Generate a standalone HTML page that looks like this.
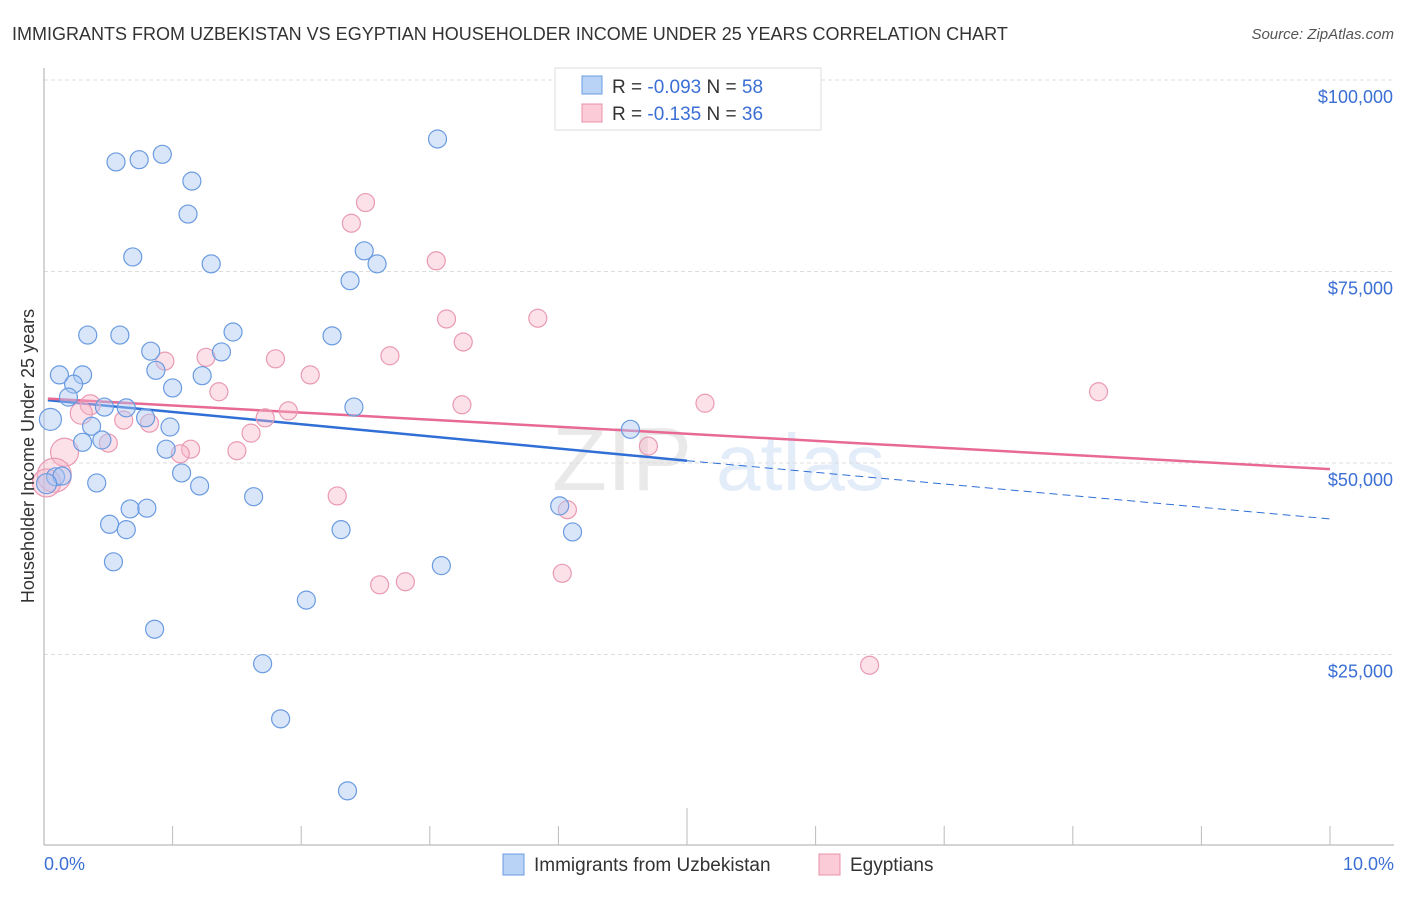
<!DOCTYPE html>
<html><head><meta charset="utf-8"><style>
body{margin:0;background:#fff;font-family:"Liberation Sans",sans-serif}
svg text{font-family:"Liberation Sans",sans-serif}
</style></head><body>
<svg width="1406" height="892" xmlns="http://www.w3.org/2000/svg">
<text x="12" y="40" font-size="18" fill="#333">IMMIGRANTS FROM UZBEKISTAN VS EGYPTIAN HOUSEHOLDER INCOME UNDER 25 YEARS CORRELATION CHART</text>
<text x="1394" y="39" font-size="15" fill="#555" text-anchor="end" font-style="italic">Source: ZipAtlas.com</text>
<g opacity="0.18">
<text x="552" y="490" font-size="90" fill="#888" font-family="Liberation Serif">ZIP</text>
<text x="716" y="490" font-size="80" fill="#6a9be0">atlas</text></g>
<g id="grid"></g><g id="axes"></g><g id="trends"></g><g id="pts"></g>
<text transform="translate(34,456) rotate(-90)" text-anchor="middle" font-size="18" fill="#333">Householder Income Under 25 years</text>
<text x="44" y="870" font-size="18" fill="#3b6fd4">0.0%</text>
<text x="1394" y="870" font-size="18" fill="#3b6fd4" text-anchor="end">10.0%</text>
<g>
<rect x="555" y="68" width="266" height="62" fill="#fff" stroke="#ddd"/>
<rect x="582" y="76" width="20" height="18" fill="#b8d3f5" stroke="#6a9be0"/>
<rect x="582" y="104" width="20" height="18" fill="#fbcbd8" stroke="#e890aa"/>
<text x="612" y="93" font-size="19" fill="#333">R = <tspan fill="#3b6fd4">-0.093</tspan>   N = <tspan fill="#3b6fd4">58</tspan></text>
<text x="612" y="120" font-size="19" fill="#333">R =  <tspan fill="#3b6fd4">-0.135</tspan>   N = <tspan fill="#3b6fd4">36</tspan></text>
</g>
<g>
<rect x="503" y="854" width="21" height="21" fill="#b8d3f5" stroke="#6a9be0"/>
<text x="534" y="871" font-size="19" fill="#333">Immigrants from Uzbekistan</text>
<rect x="819" y="854" width="21" height="21" fill="#fbcbd8" stroke="#e890aa"/>
<text x="850" y="871" font-size="19" fill="#333">Egyptians</text>
</g>
</svg>
<script>
const yTicks=[25000,50000,75000,100000];
const yTickLabels=["$25,000","$50,000","$75,000","$100,000"];
const blueX=[3.06,0.56,0.74,0.92,1.15,1.12,0.69,1.30,2.49,2.59,2.38,0.34,0.59,1.47,2.24,0.83,1.38,0.87,0.12,0.30,1.23,0.23,1.00,0.19,0.47,0.64,2.41,0.05,0.79,0.37,0.98,4.56,0.30,0.45,0.95,1.07,1.21,0.09,0.14,0.41,1.63,0.67,0.80,4.01,0.51,0.64,4.11,2.31,0.54,3.09,2.04,0.86,1.70,1.84,2.36,0.02];
const blueY=[92.3,89.3,89.6,90.3,86.8,82.5,76.9,76.0,77.7,76.0,73.8,66.7,66.7,67.1,66.6,64.6,64.5,62.1,61.5,61.5,61.4,60.3,59.8,58.6,57.3,57.2,57.3,55.7,55.9,54.8,54.7,54.4,52.7,53.0,51.8,48.7,47.0,48.2,48.3,47.4,45.6,44.0,44.1,44.4,42.0,41.3,41.0,41.3,37.1,36.6,32.1,28.3,23.8,16.6,7.2,47.3];
const blueR=[9,9,9,9,9,9,9,9,9,9,9,9,9,9,9,9,9,9,9,9,9,9,9,9,9,9,9,11,9,9,9,9,9,9,9,9,9,9,9,9,9,9,9,9,9,9,9,9,9,9,9,9,9,9,9,10];
const pinkX=[2.50,2.39,3.05,3.84,3.13,3.26,2.69,1.26,1.80,0.94,2.07,8.20,1.36,5.14,0.36,3.25,1.90,0.29,1.72,0.62,0.82,0.50,1.61,1.14,4.70,1.50,1.06,0.16,0.08,0.02,2.28,4.07,2.61,2.81,4.03,6.42];
const pinkY=[84.0,81.3,76.4,68.9,68.8,65.8,64.0,63.8,63.6,63.3,61.5,59.3,59.3,57.8,57.6,57.6,56.8,56.5,55.9,55.6,55.2,52.6,53.9,51.8,52.2,51.6,51.2,51.4,48.4,47.4,45.7,43.9,34.1,34.5,35.6,23.6];
const pinkR=[9,9,9,9,9,9,9,9,9,9,9,9,9,9,10,9,9,11,9,9,9,9,9,9,9,9,9,14,17,14,9,9,9,9,9,9];
const blueTrend=[[0.03,58.2],[5.0,50.3],[10,42.7]];
const pinkTrend=[[0.03,58.4],[10,49.2]];
const NS="http://www.w3.org/2000/svg";
const X=v=>44+v*128.6, Y=k=>463-(k-50)*7.66;
function mk(t,a,p){const e=document.createElementNS(NS,t);for(const k in a)e.setAttribute(k,a[k]);p.appendChild(e);return e;}
const grid=document.getElementById('grid'),axes=document.getElementById('axes'),tr=document.getElementById('trends'),pts=document.getElementById('pts');
yTicks.forEach((t,i)=>{const y=Y(t/1000);
const l=mk('line',{x1:44,x2:1394,y1:y,y2:y,stroke:'#ddd','stroke-dasharray':'4,3'},grid);


const tx=mk('text',{x:1393,y:y+23,'font-size':18,fill:'#3b6fd4','text-anchor':'end'},grid);tx.textContent=yTickLabels[i];

});
mk('line',{x1:44,x2:44,y1:68,y2:845,stroke:'#aaa'},axes);
mk('line',{x1:44,x2:1394,y1:845,y2:845,stroke:'#aaa'},axes);
for(let i=1;i<=10;i++){const t=mk('line',{x1:X(i),x2:X(i),y1:i==5?808:826,y2:845,stroke:'#bbb'},axes);

}
const b1=mk('line',{x1:X(blueTrend[0][0]),y1:Y(blueTrend[0][1]),x2:X(blueTrend[1][0]),y2:Y(blueTrend[1][1]),stroke:'#2f6fd6','stroke-width':2.5},tr);


const b2=mk('line',{x1:X(blueTrend[1][0]),y1:Y(blueTrend[1][1]),x2:X(blueTrend[2][0]),y2:Y(blueTrend[2][1]),stroke:'#2f6fd6','stroke-width':1,'stroke-dasharray':'8,5'},tr);


const p1=mk('line',{x1:X(pinkTrend[0][0]),y1:Y(pinkTrend[0][1]),x2:X(pinkTrend[1][0]),y2:Y(pinkTrend[1][1]),stroke:'#e86a94','stroke-width':2.5},tr);


pinkX.forEach((x,i)=>{const c=mk('circle',{cx:X(x),cy:Y(pinkY[i]),r:pinkR[i],fill:'rgba(248,180,200,0.4)',stroke:'#e99ab3','stroke-width':1.2},pts);

});
blueX.forEach((x,i)=>{const c=mk('circle',{cx:X(x),cy:Y(blueY[i]),r:blueR[i],fill:'rgba(170,200,245,0.45)',stroke:'#6a9be0','stroke-width':1.2},pts);

});
</script>
</body></html>
